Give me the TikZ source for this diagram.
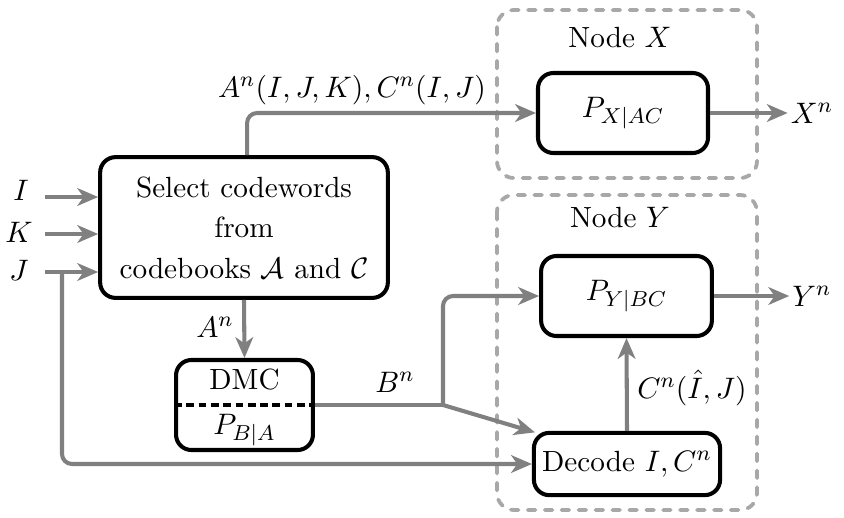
\documentclass[tikz,border=0pt]{standalone}
\usetikzlibrary{arrows.meta}
\definecolor{conncol}{RGB}{128,128,128}
\definecolor{grpcol}{RGB}{168,168,168}
\begin{document}
\begin{tikzpicture}[x=0.013cm,y=-0.013cm,
  every node/.style={font=\fontsize{10.8pt}{13pt}\selectfont},
  box/.style={draw=black, line width=1.5pt, rounded corners=0.2cm, align=center, inner sep=0pt},
  conn/.style={draw=conncol, line width=1.5pt, rounded corners=0.13cm, -{Stealth[length=0.27cm,width=0.23cm,inset=0.08cm]}},
  grp/.style={draw=grpcol, line width=1.4pt, line cap=round, dash pattern=on 0.1cm off 0.12cm, rounded corners=0.22cm},
  lbl/.style={inner sep=1pt}]
\useasboundingbox (0,0) rectangle (844,517);

% group boxes
\draw[grp] (497,10) rectangle (757,178);
\draw[grp] (497,195) rectangle (757,510);
\node[lbl] (nx) at (620,38) {Node $X$};
\node[lbl] (ny) at (620,218) {Node $Y$};

% main boxes
\node[box, minimum width=3.74cm, minimum height=1.83cm] (sel) at (244,227.5)
  {Select codewords\\[2pt] from\\[2pt] codebooks $\mathcal{A}$ and $\mathcal{C}$};
\node[box, minimum width=1.78cm, minimum height=1.17cm] (dmc) at (244.5,405) {};
\node[lbl] (dmct) at (244.5,380) {DMC};
\node[lbl] (dmcp) at (244.5,430) {$P_{B|A}$};
\draw[black, line width=1.5pt, dash pattern=on 0.1cm off 0.06cm] (dmc.west) -- (dmc.east);

\node[box, minimum width=2.21cm, minimum height=1.04cm] (px) at (623,113) {$P_{X|AC}$};
\node[box, minimum width=2.22cm, minimum height=1.04cm] (py) at (626.5,296) {$P_{Y|BC}$};
\node[box, minimum width=2.42cm, minimum height=0.81cm] (dec) at (627,464) {Decode $I, C^n$};

% inputs
\node[lbl] (I) at (21,190) {$I$};
\node[lbl] (K) at (19,232) {$K$};
\node[lbl] (J) at (19,270) {$J$};
\coordinate (i0) at (45,197);
\coordinate (k0) at (45,234);
\coordinate (j0) at (45,272);
\coordinate (js) at (62,272);
\draw[conn] (i0) -- (i0 -| sel.west);
\draw[conn] (k0) -- (k0 -| sel.west);
\draw[conn] (j0) -- (j0 -| sel.west);
\draw[conn] (js) |- (dec.west);

% select -> PX
\draw[conn] ([xshift=0.04cm]sel.north) |- (px.west);
\node[lbl] (alab) at (352,90) {$A^n(I,J,K), C^n(I,J)$};

% select -> DMC
\draw[conn] (sel.south) -- (dmc.north);
\node[lbl] (an) at (215,327) {$A^n$};

% DMC -> branch
\coordinate (br) at (443,405);
\draw[draw=conncol, line width=1.5pt] (dmc.east) -- (br);
\draw[conn] (br) |- (py.west);
\draw[conn] (br) -- ([xshift=0.04cm,yshift=-0.02cm]dec.north west);
\node[lbl] (bn) at (395,382) {$B^n$};

% decode -> PY
\draw[conn] (dec.north) -- (py.south);
\node[lbl] (cn) at (692,388) {$C^n(\hat{I},J)$};

% outputs
\node[lbl] (xn) at (812,113) {$X^n$};
\node[lbl] (yn) at (812,296) {$Y^n$};
\draw[conn] (px.east) -- (xn.west);
\draw[conn] (py.east) -- (yn.west);
\end{tikzpicture}
\end{document}
